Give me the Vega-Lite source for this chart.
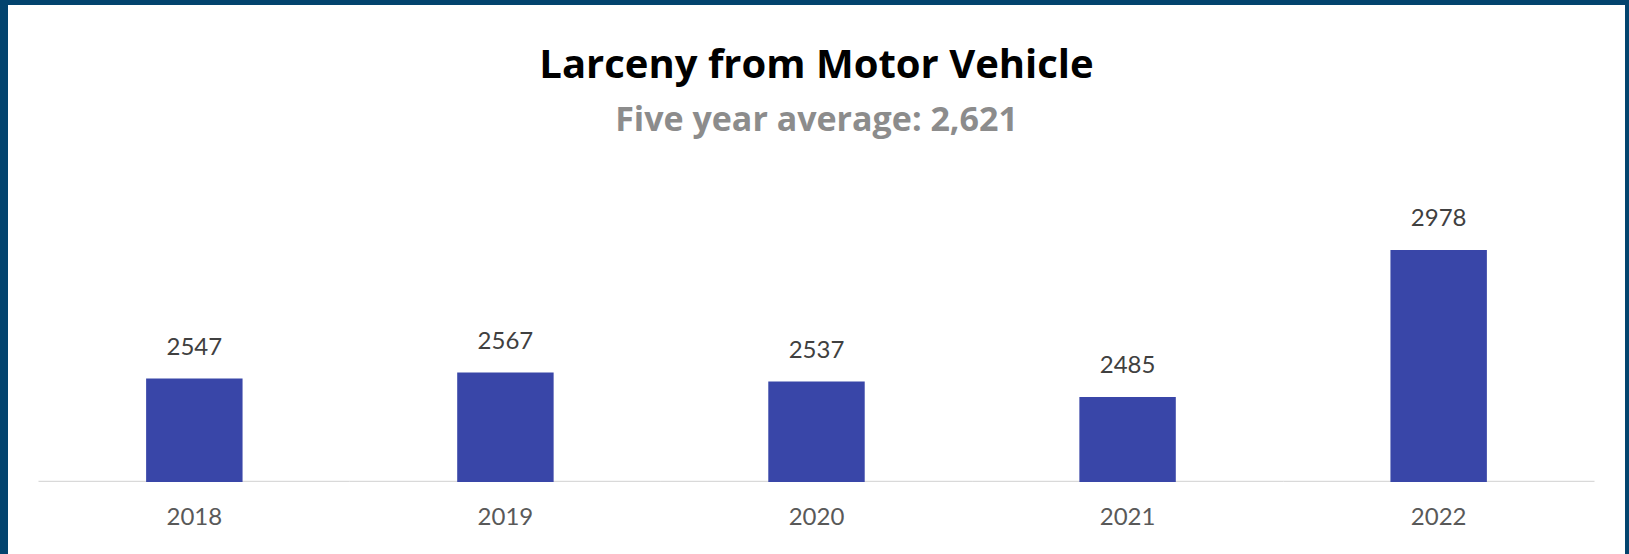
{
  "$schema": "https://vega.github.io/schema/vega-lite/v6.json",
  "autosize": {"type": "none"},
  "padding": {"left": 8, "top": 5, "right": 4, "bottom": 0},
  "width": 1617,
  "height": 549,
  "background": "#03446e",
  "config": {"view": {"fill": "white", "stroke": null}, "font": "Lato"},
  "title": {
    "text": "Larceny from Motor Vehicle",
    "subtitle": "Five year average: 2,621",
    "anchor": "middle",
    "frame": "group",
    "offset": -133,
    "font": "Open Sans",
    "fontSize": 40,
    "fontWeight": "bold",
    "color": "#000000",
    "subtitleFont": "Open Sans",
    "subtitleFontSize": 34,
    "subtitleFontWeight": "bold",
    "subtitleColor": "#8c8c8c",
    "subtitlePadding": 18
  },
  "data": {
    "values": [
      {"year": "2018", "value": 2547},
      {"year": "2019", "value": 2567},
      {"year": "2020", "value": 2537},
      {"year": "2021", "value": 2485},
      {"year": "2022", "value": 2978}
    ]
  },
  "layer": [
    {
      "mark": {"type": "bar", "color": "#d9d9d9"},
      "encoding": {
        "x": {"field": "year", "type": "nominal", "scale": {"paddingInner": 0, "paddingOuter": 0.098}, "axis": null},
        "y": {"datum": 2200, "type": "quantitative", "axis": null},
        "y2": {"datum": 2204.5}
      }
    },
    {
      "layer": [
        {
          "mark": {"type": "bar", "color": "#3946a8"},
          "encoding": {
            "x": {
              "field": "year",
              "type": "nominal",
              "scale": {"paddingInner": 0.69, "paddingOuter": 0.444},
              "axis": {
                "title": null,
                "orient": "bottom",
                "offset": -72,
                "domain": false,
                "ticks": false,
                "tickSize": 0,
                "grid": false,
                "labelAngle": 0,
                "labelPadding": 23,
                "labelFont": "Lato",
                "labelFontSize": 24,
                "labelColor": "#595959"
              }
            },
            "y": {
              "field": "value",
              "type": "quantitative",
              "scale": {"domain": [1958.6, 3799.6], "nice": false, "zero": false},
              "axis": null
            },
            "y2": {"datum": 2200}
          }
        },
        {
          "mark": {"type": "text", "baseline": "alphabetic", "dy": -24, "fontSize": 24, "font": "Lato", "color": "#404040"},
          "encoding": {
            "x": {"field": "year", "type": "nominal"},
            "y": {"field": "value", "type": "quantitative", "axis": null},
            "text": {"field": "value", "type": "quantitative", "format": "d"}
          }
        }
      ]
    }
  ],
  "resolve": {"scale": {"x": "independent"}}
}
